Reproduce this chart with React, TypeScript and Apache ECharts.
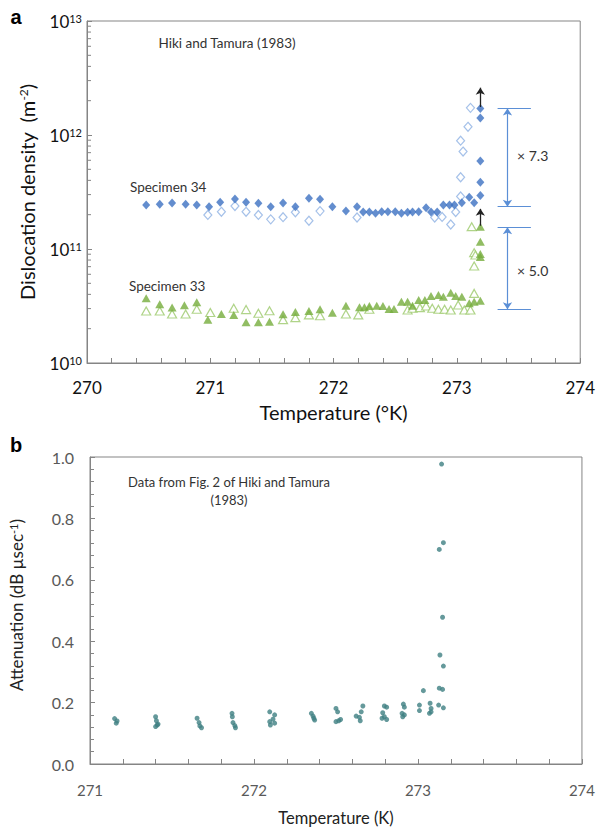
import React, { useEffect, useRef } from 'react';
import * as echarts from 'echarts';

const FONT = 'Lato, "Open Sans", "DejaVu Sans", sans-serif';

// ---------- Panel a: dislocation density (m^-2) vs temperature (°K) ----------
const spec34FilledT = [270.48, 270.59, 270.69, 270.80, 270.89, 270.99, 271.08, 271.20, 271.29, 271.39, 271.49, 271.59, 271.69, 271.80, 271.89, 271.99, 272.10, 272.19, 272.24, 272.29, 272.34, 272.39, 272.44, 272.50, 272.55, 272.60, 272.64, 272.69, 272.75, 272.79, 272.84, 272.89, 272.94, 272.98, 273.04, 273.10, 273.14, 273.19, 273.19, 273.19, 273.19, 273.19];
const spec34FilledD = [2.43e11, 2.47e11, 2.53e11, 2.47e11, 2.43e11, 2.35e11, 2.57e11, 2.75e11, 2.57e11, 2.52e11, 2.35e11, 2.53e11, 2.35e11, 2.79e11, 2.73e11, 2.35e11, 2.15e11, 2.35e11, 2.11e11, 2.11e11, 2.06e11, 2.12e11, 2.12e11, 2.12e11, 2.06e11, 2.10e11, 2.11e11, 2.12e11, 2.30e11, 2.11e11, 2.11e11, 2.43e11, 2.43e11, 2.43e11, 2.55e11, 2.85e11, 2.55e11, 2.94e11, 3.85e11, 5.91e11, 1.41e12, 1.71e12];

const spec34OpenT = [270.98, 271.09, 271.20, 271.29, 271.39, 271.49, 271.59, 271.69, 271.80, 271.89, 272.19, 272.82, 272.88, 272.95, 272.99, 273.03, 273.03, 273.05, 273.03, 273.09, 273.11];
const spec34OpenD = [1.99e11, 2.12e11, 2.38e11, 2.12e11, 1.99e11, 1.82e11, 1.90e11, 2.10e11, 1.77e11, 2.15e11, 1.89e11, 1.89e11, 1.91e11, 1.64e11, 2.11e11, 2.89e11, 4.26e11, 7.16e11, 8.91e11, 1.18e12, 1.73e12];

const spec33FilledT = [270.48, 270.59, 270.69, 270.79, 270.89, 270.98, 271.09, 271.19, 271.29, 271.39, 271.48, 271.59, 271.69, 271.80, 271.89, 271.99, 272.10, 272.21, 272.25, 272.29, 272.35, 272.40, 272.45, 272.49, 272.55, 272.60, 272.64, 272.69, 272.74, 272.79, 272.85, 272.89, 272.95, 272.99, 273.04, 273.10, 273.14, 273.19, 273.19, 273.19, 273.19, 273.19];
const spec33FilledD = [3.70e10, 3.28e10, 3.07e10, 3.21e10, 3.41e10, 2.40e10, 2.69e10, 2.64e10, 2.28e10, 2.28e10, 2.30e10, 2.68e10, 2.80e10, 2.86e10, 2.96e10, 2.76e10, 3.18e10, 3.08e10, 3.08e10, 3.16e10, 3.18e10, 3.16e10, 2.98e10, 2.98e10, 3.45e10, 3.45e10, 3.18e10, 3.57e10, 3.57e10, 3.87e10, 3.95e10, 3.82e10, 4.14e10, 3.87e10, 3.82e10, 3.34e10, 3.45e10, 3.52e10, 8.51e10, 9.03e10, 1.16e11, 1.57e11];

const spec33OpenT = [270.48, 270.59, 270.69, 270.80, 270.89, 271.00, 271.19, 271.29, 271.39, 271.48, 271.59, 271.69, 271.80, 271.89, 272.10, 272.20, 272.29, 272.60, 272.64, 272.70, 272.75, 272.80, 272.85, 272.90, 272.95, 273.01, 273.06, 273.11, 273.14, 273.14, 273.14, 273.15, 273.12];
const spec33OpenD = [2.86e10, 2.86e10, 2.69e10, 2.69e10, 2.96e10, 2.77e10, 3.02e10, 2.94e10, 2.73e10, 2.87e10, 2.40e10, 2.50e10, 2.64e10, 2.60e10, 2.69e10, 2.64e10, 2.96e10, 2.92e10, 3.02e10, 3.06e10, 3.16e10, 3.02e10, 2.96e10, 2.96e10, 2.92e10, 3.23e10, 2.92e10, 2.92e10, 4.08e10, 7.10e10, 9.29e10, 8.85e10, 1.57e11];

// ratio brackets: levels (top1, bottom1, top2, bottom2) and labels
const bracketLevels = [1.71e12, 2.35e11, 1.55e11, 2.96e10];
const bracketX = [273.33, 273.60, 273.41]; // left end, right end, vertical arrow
const ratioLabels = ['× 7.3', '× 5.0'];
// black arrows (start, end) at the spike temperature
const arrowT = 273.19;
const arrowStarts = [1.76e12, 1.60e11];
const arrowEnds = [2.60e12, 2.25e11];

const densityDecades = [10, 11, 12];
const minorMultipliers = [2, 3, 4, 5, 6, 7, 8, 9];

// ---------- Panel b: attenuation (dB µsec^-1) vs temperature (K) ----------
const attT = [271.15, 271.165, 271.16, 271.40, 271.405, 271.41, 271.40, 271.415, 271.653, 271.665, 271.67, 271.68, 271.866, 271.868, 271.872, 271.883, 271.887, 272.096, 272.126, 272.116, 272.096, 272.10, 272.126, 272.35, 272.36, 272.365, 272.37, 272.50, 272.51, 272.50, 272.517, 272.528, 272.664, 272.654, 272.623, 272.643, 272.648, 272.795, 272.809, 272.785, 272.795, 272.781, 272.809, 272.911, 272.917, 272.903, 272.917, 272.907, 273.009, 273.009, 273.033, 273.074, 273.08, 273.08, 273.07, 273.126, 273.155, 273.13, 273.15, 273.155, 273.134, 273.15, 273.13, 273.155, 273.144];
const attV = [0.148, 0.140, 0.133, 0.154, 0.141, 0.127, 0.122, 0.130, 0.149, 0.135, 0.124, 0.118, 0.165, 0.154, 0.135, 0.125, 0.118, 0.170, 0.160, 0.146, 0.138, 0.127, 0.133, 0.165, 0.156, 0.149, 0.143, 0.181, 0.170, 0.138, 0.141, 0.145, 0.189, 0.170, 0.156, 0.152, 0.141, 0.189, 0.185, 0.167, 0.154, 0.149, 0.145, 0.195, 0.185, 0.165, 0.160, 0.154, 0.192, 0.174, 0.239, 0.198, 0.181, 0.170, 0.165, 0.192, 0.183, 0.247, 0.243, 0.319, 0.355, 0.478, 0.699, 0.721, 0.977];

const AXIS = '#858585';

export default function App() {
  const ref = useRef<HTMLDivElement>(null);
  useEffect(() => {
    const chart = echarts.init(ref.current as HTMLDivElement, null, { renderer: 'svg' });
    const zip = (a: number[], b: number[]) => a.map((t, i) => [t, b[i]]);
    const minorTicks: number[][] = [];
    densityDecades.forEach((d) => minorMultipliers.forEach((m) => minorTicks.push([270, m * Math.pow(10, d)])));

    const bracketData: any[] = bracketLevels.map((lv) => [
      { coord: [bracketX[0], lv] },
      { coord: [bracketX[1], lv] },
    ]);
    bracketData.push([
      { coord: [bracketX[2], bracketLevels[0]], symbol: 'arrow' },
      { coord: [bracketX[2], bracketLevels[1]], symbol: 'arrow' },
    ]);
    bracketData.push([
      { coord: [bracketX[2], bracketLevels[2]], symbol: 'arrow' },
      { coord: [bracketX[2], bracketLevels[3]], symbol: 'arrow' },
    ]);
    const arrowData = arrowStarts.map((s, i) => [
      { coord: [arrowT, s] },
      { coord: [arrowT, arrowEnds[i]] },
    ]);

    const axisCommon = {
      axisLine: { show: true, onZero: false, lineStyle: { color: AXIS, width: 1 } },
      axisTick: { show: true, inside: true, length: 5, lineStyle: { color: AXIS } },
      splitLine: { show: false },
    };

    const option: any = {
      animation: false,
      grid: [
        { left: 87, top: 21, width: 494, height: 342, show: true, borderColor: AXIS, borderWidth: 1, backgroundColor: 'transparent' },
        { left: 90, top: 457, width: 493, height: 307, show: true, borderColor: AXIS, borderWidth: 1, backgroundColor: 'transparent' },
      ],
      xAxis: [
        {
          type: 'value', gridIndex: 0, min: 270, max: 274, interval: 1, ...axisCommon,
          minorTick: { show: true, splitNumber: 5, length: 5, lineStyle: { color: AXIS } },
          axisLabel: { margin: 16, fontSize: 17, color: '#111', fontFamily: FONT },
          name: 'Temperature (°K)', nameLocation: 'middle', nameGap: 39,
          nameTextStyle: { fontSize: 20, color: '#111', fontFamily: FONT },
        },
        {
          type: 'value', gridIndex: 1, min: 271, max: 274, interval: 1, ...axisCommon,
          minorTick: { show: true, splitNumber: 5, length: 5, lineStyle: { color: AXIS } },
          axisLabel: { margin: 18, fontSize: 15, color: '#595959', fontFamily: FONT },
          name: 'Temperature (K)', nameLocation: 'middle', nameGap: 45,
          nameTextStyle: { fontSize: 16.5, color: '#222', fontFamily: FONT },
        },
      ],
      yAxis: [
        {
          type: 'log', logBase: 10, gridIndex: 0, min: 1e10, max: 1e13, ...axisCommon,
          minorTick: { show: false },
          axisLabel: {
            margin: 5,
            formatter: (v: number) => `{b|10}{s|${Math.round(Math.log10(v))}}`,
            rich: {
              b: { fontSize: 17, color: '#111', fontFamily: FONT },
              s: { fontSize: 11, color: '#111', fontFamily: FONT, verticalAlign: 'top' },
            },
          },
        },
        {
          type: 'value', gridIndex: 1, min: 0, max: 1, interval: 0.2, ...axisCommon,
          minorTick: { show: true, splitNumber: 5, length: 4, lineStyle: { color: AXIS } },
          axisLabel: { margin: 16, fontSize: 16, color: '#595959', fontFamily: FONT, formatter: (v: number) => v.toFixed(1) },
        },
      ],
      series: [
        {
          type: 'custom', xAxisIndex: 0, yAxisIndex: 0, silent: true, clip: false, data: minorTicks,
          renderItem: (params: any, api: any) => {
            const p = api.coord([api.value(0), api.value(1)]);
            return { type: 'line', shape: { x1: p[0], y1: p[1], x2: p[0] + 4, y2: p[1] }, style: { stroke: AXIS, lineWidth: 1 } };
          },
        },
        {
          name: 'Specimen 34 (open)', type: 'scatter', xAxisIndex: 0, yAxisIndex: 0,
          data: zip(spec34OpenT, spec34OpenD), symbol: 'diamond', symbolSize: [8, 9],
          itemStyle: { color: '#ffffff', borderColor: '#8fb2e4', borderWidth: 1.2 },
          markLine: {
            silent: true, symbol: ['none', 'none'], symbolSize: 7, label: { show: false },
            lineStyle: { color: '#5b8fd6', width: 1.2, type: 'solid' },
            data: bracketData,
          },
        },
        {
          name: 'Specimen 34', type: 'scatter', xAxisIndex: 0, yAxisIndex: 0,
          data: zip(spec34FilledT, spec34FilledD), symbol: 'diamond', symbolSize: [8, 9],
          itemStyle: { color: '#3c70c2' },
        },
        {
          name: 'Specimen 33 (open)', type: 'scatter', xAxisIndex: 0, yAxisIndex: 0,
          data: zip(spec33OpenT, spec33OpenD), symbol: 'triangle', symbolSize: [9, 8],
          itemStyle: { color: '#ffffff', borderColor: '#9cc96c', borderWidth: 1.2 },
          markLine: {
            silent: true, symbol: ['none', 'arrow'], symbolSize: 7, label: { show: false },
            lineStyle: { color: '#222', width: 1.3, type: 'solid' },
            data: arrowData,
          },
        },
        {
          name: 'Specimen 33', type: 'scatter', xAxisIndex: 0, yAxisIndex: 0,
          data: zip(spec33FilledT, spec33FilledD), symbol: 'triangle', symbolSize: [9, 8],
          itemStyle: { color: '#76ad3c' },
        },
        {
          name: 'Attenuation', type: 'scatter', xAxisIndex: 1, yAxisIndex: 1,
          data: zip(attT, attV), symbol: 'circle', symbolSize: 5,
          itemStyle: { color: '#3f7f82' },
        },
      ],
      graphic: [
        { type: 'text', x: 16, y: 17, style: { text: 'a', font: 'bold 20px Arial', fill: '#000', align: 'center', verticalAlign: 'middle' } },
        { type: 'text', x: 16, y: 445, style: { text: 'b', font: 'bold 20px Arial', fill: '#000', align: 'center', verticalAlign: 'middle' } },
        { type: 'text', x: 227, y: 43, style: { text: 'Hiki and Tamura (1983)', fontFamily: FONT, fontSize: 13.5, fill: '#333', align: 'center', verticalAlign: 'middle' } },
        { type: 'text', x: 130, y: 187, style: { text: 'Specimen 34', fontFamily: FONT, fontSize: 13.5, fill: '#333', align: 'left', verticalAlign: 'middle' } },
        { type: 'text', x: 129, y: 286, style: { text: 'Specimen 33', fontFamily: FONT, fontSize: 13.5, fill: '#333', align: 'left', verticalAlign: 'middle' } },
        { type: 'text', x: 517, y: 155, style: { text: ratioLabels[0], fontFamily: FONT, fontSize: 14, fill: '#333', align: 'left', verticalAlign: 'middle' } },
        { type: 'text', x: 517, y: 270, style: { text: ratioLabels[1], fontFamily: FONT, fontSize: 14, fill: '#333', align: 'left', verticalAlign: 'middle' } },
        {
          type: 'text', x: 27, y: 192, rotation: Math.PI / 2,
          style: {
            text: '{n|Dislocation density  (m}{s|-2}{n|)}', align: 'center', verticalAlign: 'middle',
            rich: { n: { fontFamily: FONT, fontSize: 20, fill: '#111' }, s: { fontFamily: FONT, fontSize: 12, fill: '#111', verticalAlign: 'top' } },
          },
        },
        { type: 'text', x: 229, y: 482, style: { text: 'Data from Fig. 2 of Hiki and Tamura', fontFamily: FONT, fontSize: 13, fill: '#333', align: 'center', verticalAlign: 'middle' } },
        { type: 'text', x: 229, y: 500, style: { text: '(1983)', fontFamily: FONT, fontSize: 13, fill: '#333', align: 'center', verticalAlign: 'middle' } },
        {
          type: 'text', x: 16, y: 605, rotation: Math.PI / 2,
          style: {
            text: '{n|Attenuation (dB µsec}{s|-1}{n|)}', align: 'center', verticalAlign: 'middle',
            rich: { n: { fontFamily: FONT, fontSize: 17, fill: '#222' }, s: { fontFamily: FONT, fontSize: 11, fill: '#222', verticalAlign: 'top' } },
          },
        },
      ],
    };
    chart.setOption(option);
    return () => chart.dispose();
  }, []);
  return <div ref={ref} style={{ position: 'fixed', left: 0, top: 0, width: 598, height: 830, background: '#fff' }} />;
}
